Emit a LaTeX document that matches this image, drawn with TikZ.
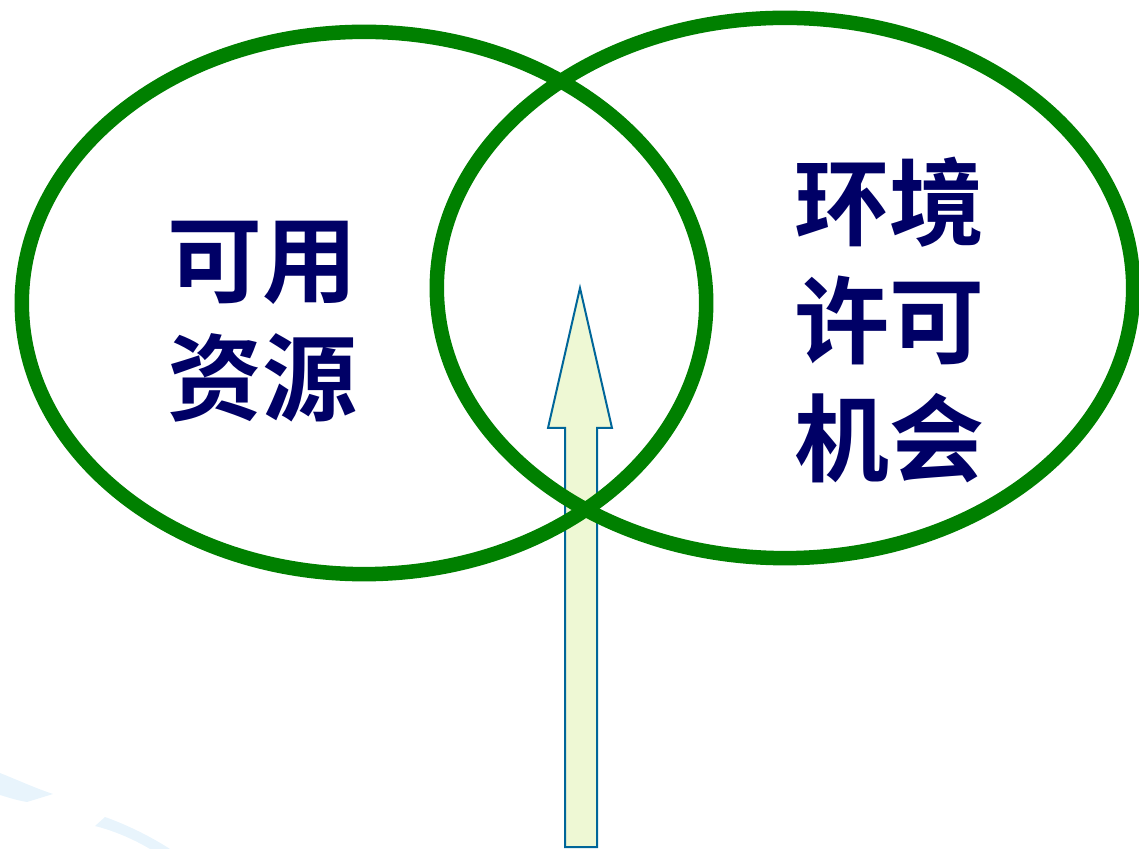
\documentclass[tikz,border=0pt]{standalone}
\usepackage{fontspec}
\newfontfamily\cjk{Noto Sans CJK SC}[BoldFont={Noto Sans CJK SC Bold}]
\usepackage{tikz}
\usetikzlibrary{positioning}
\usetikzlibrary{shapes}
\usepackage{xcolor}
\definecolor{ringgreen}{HTML}{008000}
\definecolor{textnavy}{HTML}{000066}
\definecolor{arrowfill}{HTML}{EEF8D4}
\definecolor{arrowline}{HTML}{006699}
\definecolor{swoosh}{HTML}{E8F4FC}
\tikzstyle{ring}=[ellipse, draw=ringgreen, line width=0.145cm, inner sep=0pt]
\tikzstyle{label_cust}=[text=textnavy, font=\cjk\bfseries\fontsize{27}{33.5}\selectfont, align=center, inner sep=0pt]
\tikzstyle{up arrow}=[fill=arrowfill, draw=arrowline, line width=0.02cm, line join=miter]

\begin{document}
\begin{tikzpicture}[x=0.01cm, y=-0.01cm]
        \useasboundingbox (0,0) rectangle (1139,849);

        % background swoosh
        \fill[swoosh] (0,773) .. controls (20,781) and (35,788) .. (53,794)
                -- (27,802) .. controls (15,800) and (7,797) .. (0,795) -- cycle;
        \fill[swoosh] (105,817) .. controls (125,824) and (150,836) .. (170,849)
                -- (150,849) .. controls (135,840) and (115,831) .. (95,826) -- cycle;

        % arrow
        \draw[up arrow] (565,847) -- (565,428) -- (548,428) -- (580,288)
                -- (612,428) -- (597,428) -- (597,847) -- cycle;

        % rings
        \node[ring, minimum width=6.84cm, minimum height=5.42cm] (res) at (364,303) {};
        \node[ring, minimum width=6.96cm, minimum height=5.40cm] (env) at (785,288) {};

        % labels
        \node[label_cust] (reslabel) at (262,322) {可用\\资源};
        \node[label_cust] (envlabel) at (889,320) {环境\\许可\\机会};

\end{tikzpicture}
\end{document}
